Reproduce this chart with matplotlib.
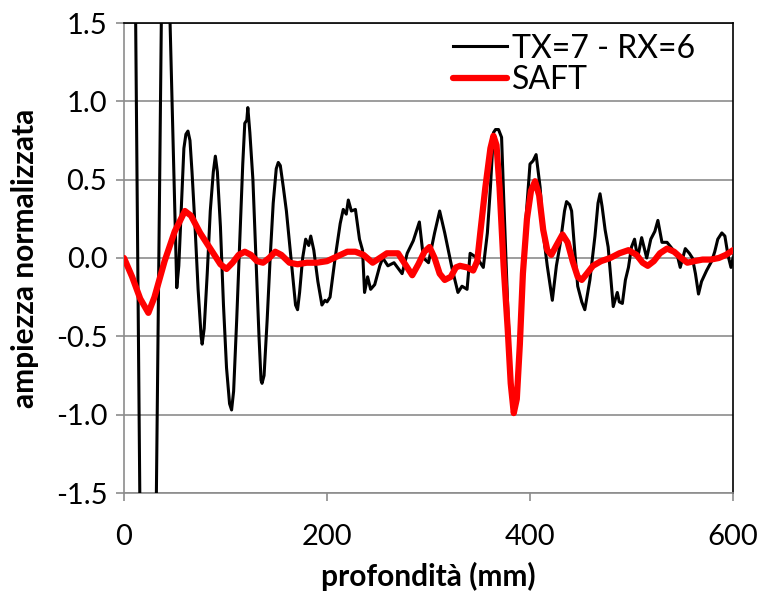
import matplotlib
matplotlib.use('Agg')
import matplotlib.pyplot as plt

plt.rcParams['font.family'] = ['Lato', 'DejaVu Sans']

# black trace TX=7 - RX=6 (depth mm, normalised amplitude)
tx_x = [0, 23, 40, 45, 52, 54, 57, 59, 61, 63, 65, 67, 70, 73, 76, 77, 79, 82,
        85, 88, 90, 92, 95, 98, 101, 104, 106, 108, 111, 114, 117, 119, 121,
        122, 124, 127, 130, 133, 135, 136, 138, 141, 144, 147, 150, 152, 154,
        157, 160, 163, 166, 169, 171, 173, 176, 179, 182, 184, 187, 191, 195,
        198, 200, 203, 208, 213, 216, 219, 221, 224, 228, 232, 235, 237, 240,
        243, 247, 252, 255, 260, 266, 274, 279, 285, 291, 295, 300, 306, 311,
        316, 323, 329, 333, 338, 341, 348, 354, 356, 358, 361, 364, 366, 369,
        372, 374, 378, 381, 385, 388, 392, 396, 400, 403, 406, 410, 413, 417,
        422, 426, 430, 434, 436, 439, 441, 444, 447, 451, 454, 459, 464, 467,
        469, 471, 474, 477, 481, 482, 486, 488, 491, 494, 497, 500, 503, 506,
        510, 515, 519, 523, 526, 530, 535, 540, 545, 548, 553, 557, 560, 563,
        566, 569, 574, 579, 582, 585, 589, 592, 595, 598, 600]
tx_y = [10.0, -7.0, 3.5, 1.6, -0.19, -0.05, 0.4, 0.7, 0.79, 0.81, 0.75, 0.55,
        0.2, -0.2, -0.5, -0.55, -0.45, -0.1, 0.3, 0.55, 0.65, 0.55, 0.2, -0.3,
        -0.7, -0.93, -0.97, -0.85, -0.4, 0.1, 0.6, 0.86, 0.88, 0.96, 0.8, 0.5,
        0.0, -0.5, -0.78, -0.80, -0.75, -0.4, 0.0, 0.35, 0.57, 0.61, 0.59,
        0.45, 0.3, 0.1, -0.1, -0.30, -0.33, -0.22, 0.0, 0.12, 0.08, 0.14, 0.05,
        -0.15, -0.30, -0.27, -0.28, -0.25, 0.0, 0.22, 0.31, 0.28, 0.37, 0.30,
        0.31, 0.12, 0.05, -0.22, -0.12, -0.2, -0.17, -0.05, 0.0, -0.05, -0.03,
        -0.1, 0.03, 0.11, 0.23, 0.0, -0.03, 0.16, 0.30, 0.16, -0.06, -0.22,
        -0.18, -0.2, 0.03, 0.0, -0.06, 0.05, 0.16, 0.45, 0.80, 0.82, 0.82,
        0.77, 0.4, -0.3, -0.75, -0.99, -0.85, -0.3, 0.25, 0.6, 0.62, 0.66,
        0.45, 0.16, -0.05, -0.27, -0.05, 0.10, 0.3, 0.36, 0.34, 0.3, 0.05,
        -0.18, -0.28, -0.33, -0.14, 0.14, 0.35, 0.41, 0.33, 0.18, 0.07, -0.24,
        -0.31, -0.22, -0.28, -0.29, -0.14, -0.06, 0.07, 0.12, 0.0, 0.13, 0.0,
        0.12, 0.17, 0.24, 0.1, 0.1, 0.06, 0.02, -0.06, 0.06, 0.03, 0.0, -0.1,
        -0.23, -0.15, -0.08, -0.02, 0.04, 0.12, 0.16, 0.14, 0.02, -0.06, 0.0]

# red trace SAFT
saft_x = [0, 8, 16, 24, 30, 40, 50, 60, 66, 75, 85, 95, 101, 107, 113, 119,
          125, 131, 137, 143, 149, 155, 163, 171, 180, 190, 200, 210, 220, 228,
          236, 245, 252, 259, 265, 270, 277, 284, 290, 296, 301, 306, 311, 316,
          322, 327, 331, 338, 344, 348, 351, 356, 361, 364, 367, 370, 374, 378,
          381, 384, 387, 390, 393, 397, 401, 405, 409, 413, 417, 421, 426, 432,
          437, 442, 447, 451, 456, 462, 470, 479, 488, 497, 505, 511, 516, 522,
          528, 535, 542, 549, 555, 562, 570, 578, 586, 593, 600]
saft_y = [0.0, -0.12, -0.26, -0.35, -0.25, -0.02, 0.17, 0.30, 0.27, 0.16, 0.06,
          -0.04, -0.07, -0.03, 0.02, 0.04, 0.02, -0.02, -0.03, 0.0, 0.04, 0.02,
          -0.03, -0.04, -0.03, -0.03, -0.02, 0.01, 0.04, 0.04, 0.02, -0.03, 0.0,
          0.03, 0.03, 0.03, -0.04, -0.11, -0.04, 0.04, 0.07, 0.0, -0.1, -0.14,
          -0.12, -0.06, -0.05, -0.06, -0.08, -0.02, 0.16, 0.45, 0.70, 0.78,
          0.72, 0.45, -0.05, -0.45, -0.80, -0.99, -0.90, -0.55, -0.1, 0.25,
          0.43, 0.49, 0.40, 0.18, 0.05, 0.02, 0.08, 0.15, 0.10, -0.02, -0.12,
          -0.14, -0.10, -0.05, -0.02, 0.0, 0.03, 0.05, 0.02, -0.03, -0.05,
          -0.02, 0.03, 0.06, 0.04, 0.0, -0.03, -0.02, -0.01, -0.01, 0.0, 0.02,
          0.05]

yticks = [-1.5, -1.0, -0.5, 0.0, 0.5, 1.0, 1.5]
xticks = [0, 200, 400, 600]

gray = '#8c8c8c'

fig = plt.figure(figsize=(7.6, 5.93), dpi=100)
ax = fig.add_axes([124 / 760, 1 - 493 / 593, 609 / 760, 470 / 593])

ax.plot(tx_x, tx_y, color='black', lw=2.2, label='TX=7 - RX=6', zorder=3,
        solid_joinstyle='round')
ax.plot(saft_x, saft_y, color='#ff0000', lw=4.5, label='SAFT', zorder=4,
        solid_capstyle='round', solid_joinstyle='round')

ax.set_xlim(0, 600)
ax.set_ylim(-1.5, 1.5)
ax.set_xticks(xticks)
ax.set_yticks(yticks)
ax.set_yticklabels([f'{v:.1f}' for v in yticks])
ax.yaxis.grid(True, color=gray, lw=1.2)
ax.set_axisbelow(True)

for s in ['left', 'bottom']:
    ax.spines[s].set_color(gray)
    ax.spines[s].set_linewidth(1.2)
for s in ['top', 'right']:
    ax.spines[s].set_color('black')
    ax.spines[s].set_linewidth(1.2)

ax.tick_params(axis='both', colors=gray, length=6, width=1.2, labelsize=21,
               labelcolor='black')
ax.tick_params(axis='y', pad=6)
ax.tick_params(axis='x', pad=16)

ax.set_xlabel('profondità (mm)', fontsize=21.5, fontweight='bold', labelpad=9)
ax.set_ylabel('ampiezza normalizzata', fontsize=21.5, fontweight='bold',
              labelpad=12)

leg = ax.legend(loc='upper right', bbox_to_anchor=(0.975, 1.025), frameon=False,
                fontsize=23, handlelength=1.7, handletextpad=0.15,
                labelspacing=0.05, borderaxespad=0.3)

fig.savefig('out.png', dpi=100)
